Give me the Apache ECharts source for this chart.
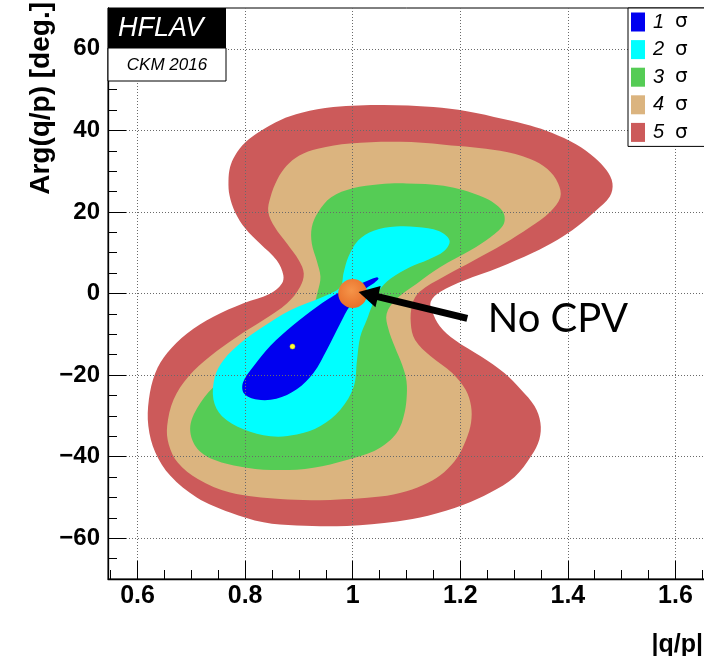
<!DOCTYPE html>
<html>
<head>
<meta charset="utf-8">
<title>Arg(q/p) vs |q/p|</title>
<script src="https://cdn.jsdelivr.net/npm/echarts@6/dist/echarts.min.js"></script>
<style>
  html, body { margin: 0; padding: 0; background: #fff; }
  #wrap { width: 704px; height: 656px; overflow: hidden; }
  #chart { width: 727px; height: 656px; }
</style>
</head>
<body>
<div id="wrap"><div id="chart"></div></div>
<script>
// Axis ranges and tick positions
const xRange = [0.545, 1.655];
const yRange = [-70, 70];
const xMajorTicks = [0.6, 0.8, 1.0, 1.2, 1.4, 1.6];
const xMinorTicks = [0.55, 0.6, 0.65, 0.7, 0.75, 0.8, 0.85, 0.9, 0.95, 1.0, 1.05, 1.1, 1.15, 1.2, 1.25, 1.3, 1.35, 1.4, 1.45, 1.5, 1.55, 1.6, 1.65];
const yMajorTicks = [-60, -40, -20, 0, 20, 40, 60];
const yMinorTicks = [-70, -65, -60, -55, -50, -45, -40, -35, -30, -25, -20, -15, -10, -5, 0, 5, 10, 15, 20, 25, 30, 35, 40, 45, 50, 55, 60, 65, 70];

// Confidence-level contours in (|q/p|, Arg(q/p) [deg])
const sigma5 = [
  [0.871, 4.5], [0.859, 8.1], [0.828, 12.2], [0.800, 16.0], [0.781, 20.0], [0.771, 24.0],
  [0.769, 27.6], [0.772, 31.0], [0.781, 33.8], [0.800, 37.0], [0.831, 40.0], [0.865, 42.5],
  [0.905, 44.3], [0.964, 45.7], [1.057, 46.2], [1.150, 45.7], [1.212, 44.7], [1.280, 42.8],
  [1.330, 41.2], [1.370, 39.4], [1.415, 36.6], [1.450, 33.3], [1.472, 30.2], [1.483, 27.0],
  [1.478, 23.8], [1.452, 20.3], [1.418, 16.5], [1.381, 13.2], [1.335, 10.0], [1.272, 6.4],
  [1.207, 3.2], [1.163, 0.4], [1.145, -2.0], [1.148, -4.5], [1.162, -8.0], [1.190, -11.4],
  [1.238, -15.4], [1.282, -19.5], [1.313, -23.6], [1.338, -27.6], [1.349, -31.7], [1.347, -35.8],
  [1.332, -39.8], [1.301, -45.0], [1.256, -48.8], [1.206, -51.8], [1.140, -54.5], [1.082, -55.9],
  [0.989, -57.0], [0.896, -56.9], [0.834, -56.1], [0.772, -53.7], [0.710, -50.0], [0.661, -44.7],
  [0.633, -39.0], [0.620, -32.5], [0.621, -26.0], [0.633, -19.5], [0.655, -14.6], [0.692, -9.8],
  [0.741, -5.7], [0.797, -2.4], [0.847, 0.0], [0.868, 2.4]
];
const sigma4 = [
  [0.909, 4.9], [0.900, 8.1], [0.878, 12.2], [0.855, 16.3], [0.843, 20.0], [0.847, 23.6],
  [0.860, 28.0], [0.877, 31.3], [0.900, 33.8], [0.935, 35.5], [0.995, 36.8], [1.088, 37.2],
  [1.170, 36.5], [1.274, 35.0], [1.330, 33.0], [1.362, 30.5], [1.382, 27.0], [1.386, 23.6],
  [1.367, 20.0], [1.330, 16.3], [1.281, 12.2], [1.225, 8.1], [1.169, 4.1], [1.125, 0.5],
  [1.111, -2.5], [1.108, -7.3], [1.116, -11.4], [1.145, -15.4], [1.185, -19.5], [1.210, -23.6],
  [1.220, -27.6], [1.220, -31.7], [1.211, -35.8], [1.194, -40.3], [1.170, -43.8], [1.140, -46.4],
  [1.100, -48.5], [1.051, -49.8], [0.958, -50.6], [0.865, -50.4], [0.772, -48.8], [0.712, -45.5],
  [0.675, -41.5], [0.658, -37.0], [0.655, -32.5], [0.667, -26.0], [0.695, -20.3], [0.735, -15.4],
  [0.785, -10.6], [0.834, -6.5], [0.878, -2.4], [0.902, 1.6]
];
const sigma3 = [
  [0.940, 4.1], [0.933, 8.1], [0.924, 12.2], [0.924, 16.3], [0.936, 20.0], [0.960, 23.6],
  [1.000, 25.8], [1.050, 26.8], [1.100, 27.0], [1.169, 26.4], [1.243, 23.6], [1.278, 20.3],
  [1.281, 17.1], [1.256, 13.8], [1.219, 10.6], [1.163, 6.5], [1.119, 2.4], [1.080, -1.5],
  [1.063, -5.0], [1.066, -8.5], [1.078, -13.0], [1.092, -17.5], [1.100, -21.5], [1.100, -26.0],
  [1.095, -30.0], [1.085, -33.5], [1.065, -36.5], [1.040, -38.6], [0.989, -40.8], [0.927, -42.7],
  [0.865, -43.3], [0.803, -42.7], [0.741, -40.7], [0.708, -37.5], [0.698, -32.5], [0.717, -26.8],
  [0.748, -22.0], [0.791, -17.1], [0.840, -12.2], [0.890, -7.3], [0.925, -3.3], [0.935, 0.5]
];
const sigma2 = [
  [0.977, 1.6], [0.983, 5.0], [0.992, 9.0], [1.010, 13.0], [1.039, 15.4], [1.080, 16.4],
  [1.119, 16.3], [1.160, 15.3], [1.180, 13.0], [1.170, 10.4], [1.140, 8.3], [1.107, 6.5],
  [1.070, 3.6], [1.048, 0.5], [1.036, -3.0], [1.026, -6.5], [1.014, -10.6], [1.008, -16.3],
  [1.002, -22.8], [0.977, -28.5], [0.940, -32.5], [0.896, -34.6], [0.847, -35.0], [0.797, -33.3],
  [0.757, -30.1], [0.741, -26.0], [0.744, -20.3], [0.760, -16.3], [0.791, -12.2], [0.834, -8.1],
  [0.884, -4.1], [0.945, -0.8]
];
const sigma1 = [
  [1.045, 4.0], [1.014, 2.4], [0.977, 0.4], [0.933, -3.3], [0.889, -7.8], [0.847, -12.8],
  [0.816, -17.8], [0.796, -21.8], [0.798, -24.5], [0.822, -26.0], [0.858, -25.8], [0.896, -23.5],
  [0.927, -19.5], [0.952, -13.8], [0.977, -7.3], [0.995, -3.0], [1.020, 0.8], [1.040, 2.6],
  [1.048, 3.6]
];

const sigmaNames = ['1 σ', '2 σ', '3 σ', '4 σ', '5 σ'];
const sigmaColors = ['#0000f0', '#00ffff', '#55cc55', '#dbb47f', '#cc5a5a'];
const contours = [sigma1, sigma2, sigma3, sigma4, sigma5];

// Fit result, the CP-conserving point and its annotation
const bestFit = [[0.888, -13.0]];
const noCpvPoint = [[1.0, 0.0]];
const arrowFrom = [1.213, -6.1];
const arrowTo = [1.029, -0.2];
const noCpvLabelAt = [[1.251, -6.3]];
const noCpvText = 'No CPV';

const axisFont = 'Liberation Sans, Arial, Helvetica, sans-serif';
const minus = v => (v < 0 ? '\u2212' + Math.abs(v) : String(v));

function contourSeries(i) {
  const pts = contours[i];
  return {
    type: 'custom',
    name: sigmaNames[i],
    coordinateSystem: 'cartesian2d',
    xAxisIndex: 0,
    yAxisIndex: 0,
    data: pts,
    silent: true,
    z: 2,
    itemStyle: { color: sigmaColors[i] },
    renderItem: function (params, api) {
      if (params.dataIndex !== 0) return null;
      return {
        type: 'polygon',
        shape: { points: pts.map(p => api.coord(p)), smooth: 0.35 },
        style: { fill: sigmaColors[i] }
      };
    }
  };
}

const chart = echarts.init(document.getElementById('chart'), null, { renderer: 'canvas' });

const series = [];
for (let i = contours.length - 1; i >= 0; i--) series.push(contourSeries(i));

series.push({
  type: 'scatter',
  name: 'best fit',
  data: bestFit,
  symbolSize: 5,
  itemStyle: { color: '#ffff33', borderColor: '#d8d800', borderWidth: 0.5, opacity: 1 },
  silent: true,
  z: 3
});

series.push({
  type: 'scatter',
  name: 'no cpv',
  data: noCpvPoint,
  symbolSize: 29,
  silent: true,
  z: 6,
  itemStyle: {
    opacity: 1,
    color: {
      type: 'radial', x: 0.45, y: 0.4, r: 0.6,
      colorStops: [{ offset: 0, color: '#f59449' }, { offset: 1, color: '#e8702a' }]
    }
  },
  markLine: {
    silent: true,
    symbol: ['none', 'triangle'],
    symbolSize: [22, 20],
    label: { show: false },
    lineStyle: { color: '#000', width: 7, type: 'solid', opacity: 1 },
    itemStyle: { color: '#000' },
    z: 7,
    data: [[{ coord: arrowFrom }, { coord: arrowTo }]]
  }
});

series.push({
  type: 'scatter',
  name: 'no cpv label',
  data: noCpvLabelAt,
  symbolSize: 0,
  silent: true,
  z: 6,
  itemStyle: { opacity: 1 },
  label: {
    show: true,
    position: 'right',
    distance: 0,
    formatter: noCpvText,
    fontFamily: 'Lato, Carlito, sans-serif',
    fontSize: 40,
    color: '#000',
    opacity: 1
  }
});

const option = {
  animation: false,
  backgroundColor: '#fff',
  grid: {
    left: 108, top: 8, right: 22, bottom: 77,
    show: true, borderColor: '#000', borderWidth: 1, backgroundColor: 'transparent'
  },
  xAxis: [
    {
      type: 'value', min: xRange[0], max: xRange[1], position: 'bottom', z: 3,
      axisLine: { show: true, onZero: false, lineStyle: { color: '#000', width: 1.3 } },
      axisTick: { show: true, inside: true, length: 18, customValues: xMajorTicks, lineStyle: { color: '#000', width: 1 } },
      axisLabel: {
        show: true, customValues: xMajorTicks, margin: 5,
        fontFamily: axisFont, fontWeight: 'bold', fontSize: 25, color: '#000',
        formatter: v => String(+v.toFixed(2))
      },
      splitLine: { show: true, lineStyle: { color: '#6a6a6a', width: 1, type: [1, 2] } }
    },
    {
      type: 'value', min: xRange[0], max: xRange[1], position: 'bottom', z: 3,
      axisLine: { show: false, onZero: false },
      axisTick: { show: true, inside: true, length: 9, customValues: xMinorTicks, lineStyle: { color: '#000', width: 1 } },
      axisLabel: { show: false },
      splitLine: { show: false }
    }
  ],
  yAxis: [
    {
      type: 'value', min: yRange[0], max: yRange[1], position: 'left', z: 3,
      axisLine: { show: true, onZero: false, lineStyle: { color: '#000', width: 1.3 } },
      axisTick: { show: true, inside: true, length: 18, customValues: yMajorTicks, lineStyle: { color: '#000', width: 1 } },
      axisLabel: {
        show: true, customValues: yMajorTicks, margin: 8,
        fontFamily: axisFont, fontWeight: 'bold', fontSize: 24, color: '#000',
        formatter: minus
      },
      splitLine: { show: true, lineStyle: { color: '#6a6a6a', width: 1, type: [1, 2] } }
    },
    {
      type: 'value', min: yRange[0], max: yRange[1], position: 'left', z: 3,
      axisLine: { show: false, onZero: false },
      axisTick: { show: true, inside: true, length: 9, customValues: yMinorTicks, lineStyle: { color: '#000', width: 1 } },
      axisLabel: { show: false },
      splitLine: { show: false }
    }
  ],
  legend: {
    data: sigmaNames,
    orient: 'vertical',
    left: 628, top: 8,
    z: 8,
    selectedMode: false,
    icon: 'rect',
    itemWidth: 14, itemHeight: 19, itemGap: 7.6,
    padding: [4, 40, 4, 3],
    backgroundColor: '#fff',
    borderColor: '#000', borderWidth: 1, borderRadius: 0,
    formatter: name => '{n|' + name.charAt(0) + '}{s|σ}',
    textStyle: {
      padding: [0, 0, 0, 3],
      lineHeight: 19,
      rich: {
        n: { fontFamily: axisFont, fontStyle: 'italic', fontSize: 20, color: '#000', lineHeight: 19 },
        s: { fontFamily: 'DejaVu Sans, sans-serif', fontSize: 20, color: '#000', lineHeight: 19, padding: [0, 0, 0, 11] }
      }
    }
  },
  graphic: [
    { type: 'rect', z: 20, shape: { x: 108, y: 8, width: 118, height: 40 }, style: { fill: '#000' } },
    { type: 'text', z: 21, x: 118, y: 28,
      style: { text: 'HFLAV', fill: '#fff', font: 'italic 27px ' + axisFont, textAlign: 'left', textVerticalAlign: 'middle' } },
    { type: 'rect', z: 20, shape: { x: 108, y: 48, width: 118, height: 33 }, style: { fill: '#fff', stroke: '#000', lineWidth: 1 } },
    { type: 'text', z: 21, x: 167, y: 65,
      style: { text: 'CKM 2016', fill: '#000', font: 'italic 17px ' + axisFont, textAlign: 'center', textVerticalAlign: 'middle' } },
    { type: 'text', z: 21, x: 41, y: 2, rotation: Math.PI / 2,
      style: { text: 'Arg(q/p) [deg.]', fill: '#000', font: 'bold 28px ' + axisFont, textAlign: 'right', textVerticalAlign: 'middle' } },
    { type: 'text', z: 21, x: 703, y: 645,
      style: { text: '|q/p|', fill: '#000', font: 'bold 25px ' + axisFont, textAlign: 'right', textVerticalAlign: 'middle' } }
  ],
  series: series
};

chart.setOption(option);
</script>
</body>
</html>
